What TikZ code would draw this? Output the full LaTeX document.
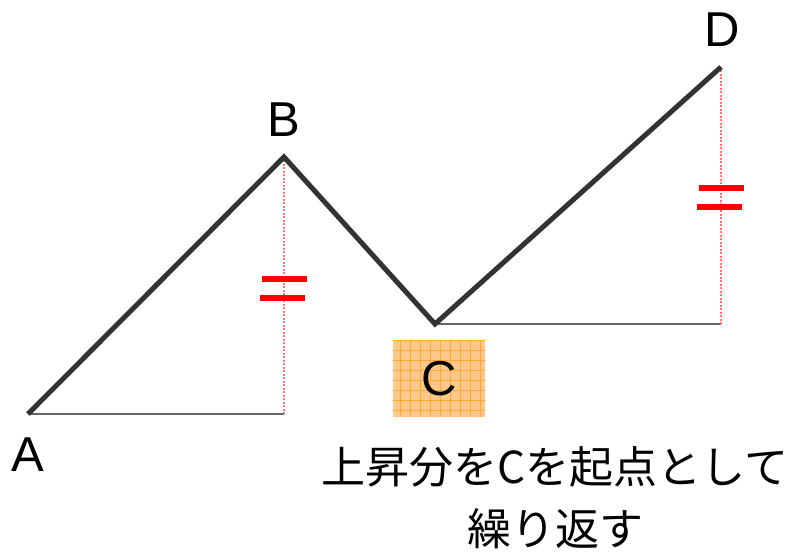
\documentclass[tikz,border=0pt]{standalone}
\usepackage{fontspec}
\setmainfont{Liberation Sans}
\newfontfamily\cjk{Noto Sans CJK JP}
\definecolor{boxfill}{HTML}{FFC88A}
\definecolor{boxgrid}{HTML}{FFAA33}
\begin{document}
\begin{tikzpicture}[x=1pt,y=-1pt,
  zigzag/.style={line width=5pt,draw=black!80,line join=miter},
  levelline/.style={line width=1.5pt,draw=black!60},
  riseline/.style={line width=1.6pt,draw=red!55,dash pattern=on 2pt off 1.5pt},
  eqbar/.style={fill=red},
  ptlabel/.style={font=\fontsize{49}{58}\selectfont,inner sep=0pt},
  jptext/.style={font=\cjk\fontsize{44}{52}\selectfont,inner sep=0pt}]
\useasboundingbox (0,0) rectangle (796,553);
% turning points
\coordinate (A) at (28,414);
\coordinate (B) at (284,157);
\coordinate (C) at (435,324);
\coordinate (D) at (721,67);
\coordinate (Bfoot) at (284,414);
\coordinate (Dfoot) at (721,324);
% levels and rises
\draw[levelline] (A) -- (Bfoot);
\draw[levelline] (C) -- (Dfoot);
\draw[riseline] (B) -- (Bfoot);
\draw[riseline] (D) -- (Dfoot);
% equal marks
\foreach \x/\y in {284/288, 721/197}{
  \fill[eqbar] (\x-22,\y-12) rectangle (\x+23,\y-6);
  \fill[eqbar] (\x-24,\y+7) rectangle (\x+21,\y+13);
}
% price path
\draw[zigzag] (A) -- (B) -- (C) -- (D);
% labels
\node[ptlabel] (labA) at (28,455) {A};
\node[ptlabel] (labB) at (284,120) {B};
\node[ptlabel] (labD) at (722,30) {D};
\node[fill=boxfill,minimum width=92pt,minimum height=77pt,inner sep=0pt] (labCbox) at (439,378.5) {};
\begin{scope}
\clip (labCbox.south west) rectangle (labCbox.north east);
\draw[boxgrid,line width=0.6pt,step=10pt] (labCbox.south west) grid (labCbox.north east);
\end{scope}
\node[ptlabel] (labC) at (labCbox) {C};
% note
\node[jptext] (note1) at (555,467) {上昇分をCを起点として};
\node[jptext] (note2) at (555,529) {繰り返す};
\end{tikzpicture}
\end{document}
